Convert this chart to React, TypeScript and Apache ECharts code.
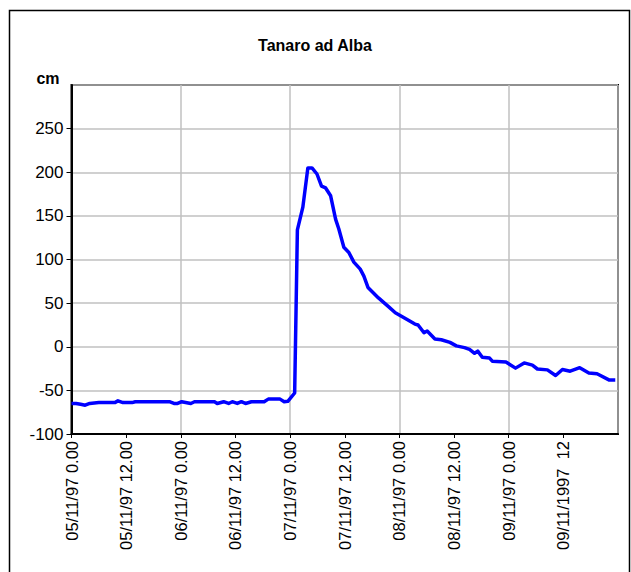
import React, { useEffect, useRef } from "react";
import * as echarts from "echarts";

const titleText = "Tanaro ad Alba";
const unitText = "cm";
const xTickLabels = [
  "05/11/97 0.00",
  "05/11/97 12.00",
  "06/11/97 0.00",
  "06/11/97 12.00",
  "07/11/97 0.00",
  "07/11/97 12.00",
  "08/11/97 0.00",
  "08/11/97 12.00",
  "09/11/97 0.00",
  "09/11/1997  12",
];
// hours since 05/11/97 0.00
const hours = [
  0, 1, 2, 3, 4, 6, 8, 9.5, 10.2, 11.3, 13.3, 14, 17, 21.5, 22.5, 23.3, 24.2, 26.2, 27, 31.4, 32,
  33.4, 34.5, 35.3, 36.4, 37.3, 38.2, 39.5, 42.3, 43.2, 45.8, 46.7, 47.5, 49, 49.6, 50.8, 51.9, 52.8,
  53.9, 54.9, 55.8, 56.9, 58, 58.7, 59.8, 60.9, 62, 63.4, 64.2, 65.1, 67.4, 69.6, 71.1, 73.6, 75.4,
  76.1, 77.4, 78.1, 79.8, 81.2, 83.1, 84.5, 86.3, 87.4, 88.5, 89.2, 90.2, 91.8, 92.4, 95.4, 97.5,
  99.4, 101.2, 102.3, 104.5, 106.3, 107.8, 109.5, 111.6, 113.6, 115.4, 118, 119.4,
];
// water level, cm
const levels = [
  -65, -65, -66, -67, -65, -64, -64, -64, -62, -64, -64, -63, -63, -63, -65, -65, -63, -65, -63, -63,
  -65, -63, -65, -63, -65, -63, -65, -63, -63, -60, -60, -63, -62.5, -53, 134, 160, 205, 205, 198,
  184, 182, 173, 146, 135, 114, 108, 97, 89, 81, 68, 56, 46, 39, 31.5, 26, 25, 16, 18, 9, 8, 5, 1,
  -1, -3, -7.5, -5, -12, -13, -16.5, -17.5, -24.5, -18.5, -21, -25.5, -26.5, -33, -26, -28, -24,
  -30, -31, -38, -38,
];

const FONT = "'Liberation Sans', Arial, sans-serif";

export default function App() {
  const ref = useRef<HTMLDivElement>(null);
  useEffect(() => {
    document.body.style.margin = "0";
    document.body.style.overflow = "hidden";
    if (!ref.current) return;
    const chart = echarts.init(ref.current, undefined, { renderer: "svg" });
    const data = hours.map((h, i) => [h, levels[i]]);
    chart.setOption({
      animation: false,
      backgroundColor: "#fff",
      textStyle: { fontFamily: FONT },
      graphic: [
        {
          type: "rect",
          shape: { x: 9.5, y: 10.5, width: 620, height: 600 },
          style: { fill: "none", stroke: "#000", lineWidth: 1.5 },
          silent: true,
        },
        {
          type: "text",
          x: 315,
          y: 45,
          style: {
            text: titleText,
            fontFamily: FONT,
            fontWeight: "bold",
            fontSize: 16,
            fill: "#000",
            textAlign: "center",
            textVerticalAlign: "middle",
          },
        },
        {
          type: "text",
          x: 48,
          y: 78,
          style: {
            text: unitText,
            fontFamily: FONT,
            fontWeight: "bold",
            fontSize: 16,
            fill: "#000",
            textAlign: "center",
            textVerticalAlign: "middle",
          },
        },
      ],
      grid: {
        left: 71.5,
        right: 13,
        top: 85,
        bottom: 138,
        show: true,
        borderColor: "#000",
        borderWidth: 2,
        backgroundColor: "transparent",
        containLabel: false,
      },
      xAxis: [
        {
          type: "value",
          min: 0,
          max: 120,
          interval: 12,
          axisLine: { show: true, onZero: false, lineStyle: { color: "#000", width: 2 } },
          axisTick: { show: true, length: 4, lineStyle: { color: "#000", width: 1 } },
          splitLine: { show: false },
          axisLabel: {
            rotate: 90,
            margin: 7,
            fontSize: 16.5,
            fontFamily: FONT,
            color: "#000",
            showMaxLabel: false,
            formatter: (v: number) => xTickLabels[Math.round(v / 12)] ?? "",
          },
        },
        {
          type: "value",
          min: 0,
          max: 120,
          interval: 24,
          position: "bottom",
          axisLine: { show: false },
          axisTick: { show: false },
          axisLabel: { show: false },
          splitLine: { show: true, lineStyle: { color: "#c0c0c0", width: 1.5 } },
        },
      ],
      yAxis: {
        type: "value",
        min: -100,
        max: 300,
        interval: 50,
        axisLine: { show: true, onZero: false, lineStyle: { color: "#000", width: 2 } },
        axisTick: { show: true, length: 5, lineStyle: { color: "#000", width: 1 } },
        splitLine: { show: true, lineStyle: { color: "#c0c0c0", width: 1.5 } },
        axisLabel: {
          margin: 8,
          fontSize: 17,
          fontFamily: FONT,
          color: "#000",
          showMaxLabel: false,
          formatter: (v: number) => (v >= 300 ? "" : String(v)),
        },
      },
      series: [
        {
          type: "line",
          xAxisIndex: 0,
          data,
          showSymbol: false,
          symbol: "none",
          lineStyle: { color: "#0000ff", width: 3.5, join: "round" },
          itemStyle: { color: "#0000ff" },
        },
      ],
    });
    return () => chart.dispose();
  }, []);
  return <div ref={ref} style={{ width: 631, height: 572 }} />;
}
